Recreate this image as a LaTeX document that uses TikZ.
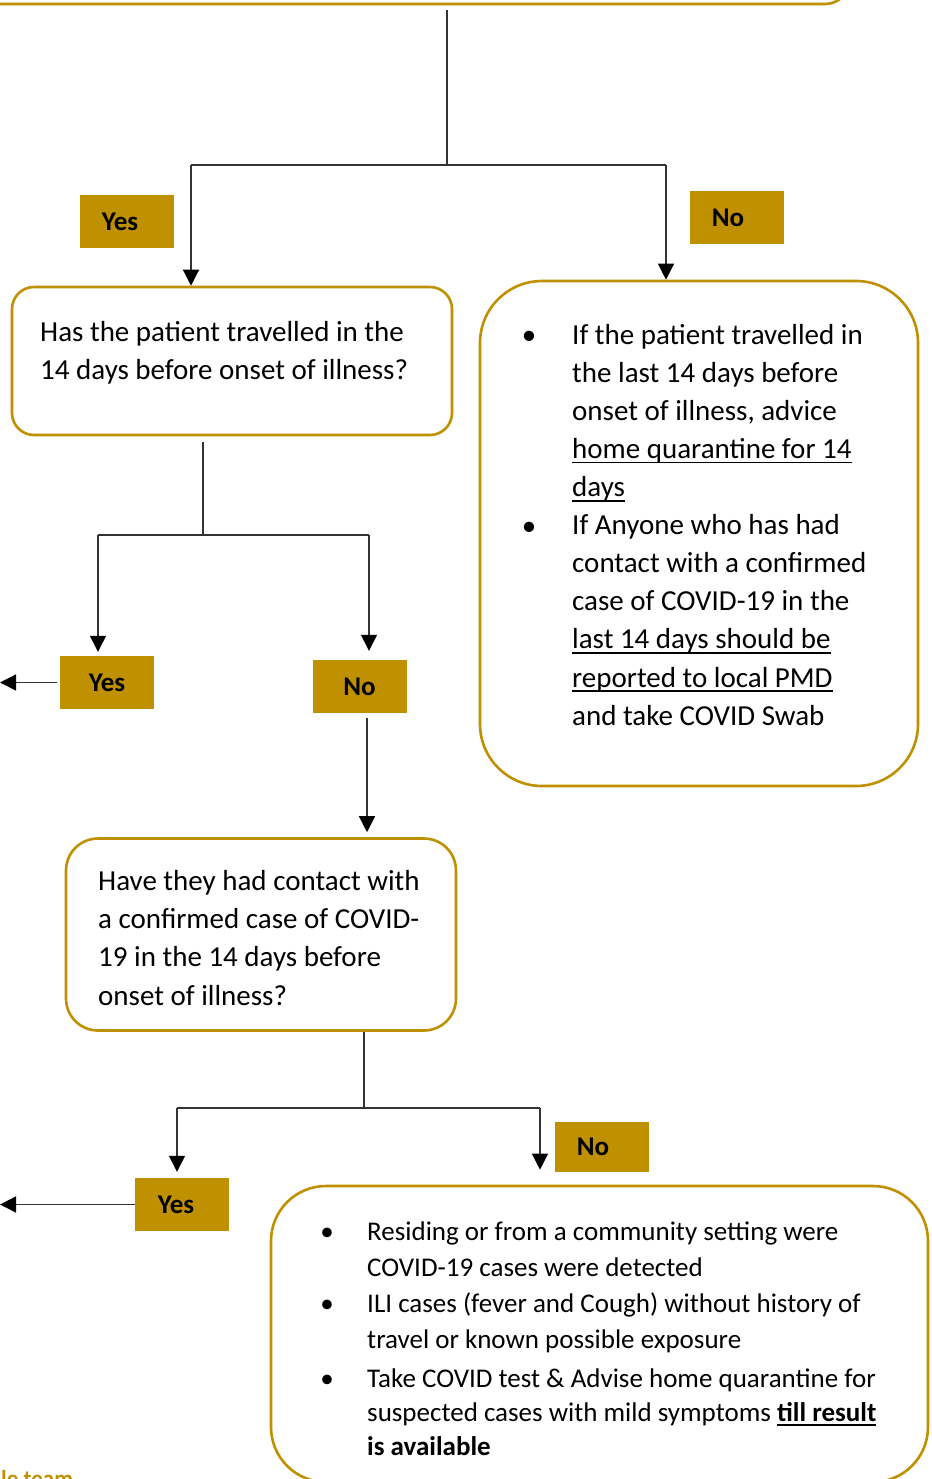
\documentclass[tikz,border=0pt]{standalone}
\usepackage{fontspec}
\setmainfont{Carlito}
\usetikzlibrary{arrows.meta}
\definecolor{gold}{RGB}{191,144,0}
\newsavebox\undrbox
% underline with a rule set just under the baseline
\newcommand{\undr}[2][1.8pt]{\sbox\undrbox{#2}\rlap{\rule[-5pt]{\wd\undrbox}{#1}}\usebox\undrbox}
\tikzset{
  gbox/.style={draw=gold, line width=2.6pt, fill=white, inner sep=0pt},
  tag/.style={fill=gold, inner sep=0pt, minimum width=94pt, minimum height=53pt,
    font=\fontsize{27}{32}\selectfont\bfseries},
  txt/.style={anchor=north west, inner sep=0pt, align=left},
  conn/.style={draw=black!80, line width=1.3pt},
  arr/.style={conn, -{Triangle[width=16pt,length=16pt,color=black]}},
  bul/.style={anchor=base, inner sep=0pt},
}
\begin{document}
\begin{tikzpicture}[x=1pt,y=-1pt]
\path[use as bounding box, clip] (0,0) rectangle (931,1479);
\fill[white] (0,0) rectangle (931,1479);

% boxes
\node[gbox, rounded corners=25pt, minimum width=950pt, minimum height=208pt] (top) at (375,-100) {};
\node[gbox, rounded corners=22pt, minimum width=440pt, minimum height=148pt] (q1) at (232,361) {};
\node[gbox, rounded corners=62pt, minimum width=438pt, minimum height=505pt] (r1) at (699,533.5) {};
\node[gbox, rounded corners=32pt, minimum width=390pt, minimum height=192pt] (q2) at (261,934.5) {};
\node[gbox, rounded corners=55pt, minimum width=657pt, minimum height=296pt] (r2) at (599.5,1334) {};

% yes / no tags
\node[tag] (yes1) at (127,221.5) {\kern-14pt Yes};
\node[tag] (no1) at (737,217.5) {\kern-18pt No};
\node[tag] (yes2) at (107,682.5) {Yes};
\node[tag] (no2) at (359.5,686.5) {No};
\node[tag] (yes3) at (182,1204.5) {\kern-12pt Yes};
\node[tag, minimum height=50pt] (no3) at (602,1147) {\kern-18pt No};

% box texts
\node[txt, font=\fontsize{29}{37.5}\selectfont] (q1t) at (40,315.4)
  {\strut Has the patient travelled in the\\14 days before onset of illness?};

\node[bul, font=\fontsize{29}{38}\selectfont] (b1) at (529,344) {\textbullet};
\node[bul, font=\fontsize{29}{38}\selectfont] (b2) at (529,535) {\textbullet};
\node[txt, font=\fontsize{29}{38.1}\selectfont] (r1t) at (572,317.3)
  {\strut If the patient travelled in\\
   the last 14 days before\\
   onset of illness, advice\\
   \undr{home quarantine for 14}\\
   \undr{days}\\
   If Anyone who has had\\
   contact with a confirmed\\
   case of COVID-19 in the\\
   \undr{last 14 days should be}\\
   \undr{reported to local PMD}\\
   and take COVID Swab};

\node[txt, font=\fontsize{29}{38.3}\selectfont] (q2t) at (98,863.2)
  {\strut Have they had contact with\\
   a confirmed case of COVID-\\
   19 in the 14 days before\\
   onset of illness?};

\node[bul, font=\fontsize{27}{36}\selectfont] (b3) at (327,1240) {\textbullet};
\node[bul, font=\fontsize{27}{36}\selectfont] (b4) at (327,1312) {\textbullet};
\node[bul, font=\fontsize{27}{36}\selectfont] (b5) at (327,1387) {\textbullet};
\node[txt, font=\fontsize{27}{36}\selectfont] (r2a) at (367,1214.8)
  {\strut Residing or from a community setting were\\
   COVID-19 cases were detected};
\node[txt, font=\fontsize{27}{36}\selectfont] (r2b) at (367,1286.8)
  {\strut ILI cases (fever and Cough) without history of\\
   travel or known possible exposure};
\node[txt, font=\fontsize{27}{34}\selectfont] (r2c) at (367,1363.2)
  {\strut Take COVID test \& Advise home quarantine for\\
   suspected cases with mild symptoms \textbf{\undr[2.4pt]{till result}}\\
   \textbf{is available}};

\node[anchor=base west, inner sep=0pt, text=gold, font=\fontsize{23}{28}\selectfont\bfseries]
  (team) at (1,1486) {le team};

% connectors: first split
\coordinate (j0) at (447,165);
\coordinate (j0l) at (191,165);
\coordinate (j0r) at (666,165);
\draw[conn, shorten <=5pt] (top.south -| j0) -- (j0);
\draw[conn] (j0l) -- (j0r);
\draw[arr] (j0l) -- (j0l |- q1.north);
\draw[arr] (j0r) -- (j0r |- r1.north);

% second split
\coordinate (j1) at (203,535);
\coordinate (j1l) at (98,535);
\coordinate (j1r) at (369,535);
\draw[conn, shorten <=6pt] (q1.south -| j1) -- (j1);
\draw[conn] (j1l) -- (j1r);
\draw[arr, shorten >=4pt] (j1l) -- (j1l |- yes2.north);
\draw[arr, shorten >=9pt] (j1r) -- (j1r |- no2.north);
\coordinate (exit2) at (0,682.5);
\draw[arr, shorten <=3pt] (yes2.west) -- (exit2);
\coordinate (c2) at (367,760);
\draw[arr, shorten <=5pt, shorten >=5pt] (no2.south -| c2) -- (q2.north -| c2);

% third split
\coordinate (j2) at (364,1108);
\coordinate (j2l) at (177,1108);
\coordinate (j2r) at (540,1108);
\draw[conn] (q2.south -| j2) -- (j2);
\draw[conn] (j2l) -- (j2r);
\draw[arr, shorten >=6pt] (j2l) -- (j2l |- yes3.north);
\draw[arr, shorten >=15pt] (j2r) -- (j2r |- r2.north);
\coordinate (exit3) at (0,1204.5);
\draw[arr] (yes3.west) -- (exit3);
\end{tikzpicture}
\end{document}
